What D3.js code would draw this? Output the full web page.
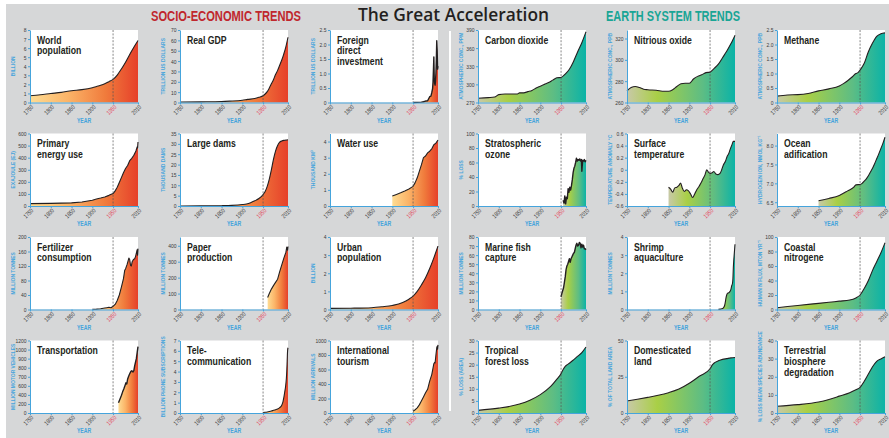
<!DOCTYPE html>
<html><head><meta charset="utf-8">
<script src="https://cdn.jsdelivr.net/npm/d3@7"></script>
<style>
html,body{margin:0;padding:0;background:#fff;}
svg{display:block;}
</style></head><body>
<svg id="chart" width="889" height="438"></svg>
<script>
// ---------- series: [year, value] ----------
const worldPopulation = [[1750,0.74],[1775,0.85],[1800,0.99],[1825,1.12],[1850,1.3],[1875,1.42],[1900,1.63],[1910,1.76],[1920,1.9],[1930,2.07],[1940,2.3],[1950,2.55],[1960,3.03],[1970,3.7],[1980,4.45],[1990,5.3],[2000,6.1],[2010,6.85]];
const realGDP = [[1750,0.4],[1800,0.6],[1850,0.9],[1870,1.3],[1900,2.2],[1913,3.0],[1930,3.8],[1940,5.0],[1950,6.5],[1955,8.2],[1960,10.5],[1965,14],[1970,18],[1975,22],[1980,27],[1985,31],[1990,36],[1995,41],[2000,47],[2005,54],[2010,63]];
const foreignInvestment = [[1950,0],[1960,0.005],[1970,0.013],[1975,0.027],[1980,0.05],[1985,0.06],[1990,0.2],[1993,0.22],[1995,0.34],[1997,0.48],[1998,0.7],[1999,1.1],[2000,1.57],[2001,0.82],[2002,0.65],[2003,0.6],[2004,0.74],[2005,1.0],[2006,1.45],[2007,2.13],[2008,1.8],[2009,1.15],[2010,1.25]];
const carbonDioxide = [[1750,277],[1775,278],[1790,279],[1800,283],[1815,284],[1830,284],[1845,284],[1850,286],[1860,286],[1870,288],[1880,290],[1890,294],[1900,297],[1910,300],[1920,303],[1930,307],[1940,311],[1950,311.5],[1960,317],[1970,325],[1980,338],[1990,354],[2000,369],[2010,387]];
const nitrousOxide = [[1750,271],[1760,274],[1770,275],[1780,274],[1790,272.5],[1800,272],[1820,271.5],[1840,270.5],[1850,270.5],[1860,272],[1870,275],[1880,277.5],[1890,278],[1900,278],[1910,282],[1920,284.5],[1930,286],[1940,288],[1950,288.5],[1960,292],[1970,296],[1980,302],[1990,308],[2000,315],[2010,323]];
const methane = [[1750,0.22],[1775,0.26],[1800,0.27],[1825,0.31],[1850,0.4],[1875,0.47],[1900,0.57],[1910,0.65],[1920,0.75],[1930,0.87],[1940,1.0],[1945,1.03],[1950,1.12],[1960,1.35],[1970,1.75],[1980,2.05],[1990,2.28],[2000,2.37],[2010,2.4]];

const primaryEnergy = [[1750,20],[1800,22],[1850,26],[1875,33],[1900,48],[1910,58],[1920,66],[1930,75],[1940,88],[1950,103],[1955,125],[1960,155],[1965,195],[1970,235],[1975,275],[1980,310],[1985,335],[1990,375],[1995,395],[2000,420],[2005,455],[2008,490],[2009,480],[2010,530]];
const largeDams = [[1750,0],[1800,0.05],[1850,0.15],[1875,0.3],[1900,0.7],[1910,1.0],[1920,1.6],[1930,2.5],[1940,3.6],[1950,5.5],[1955,7],[1960,9.5],[1965,13],[1970,17.5],[1975,22.5],[1980,26.5],[1985,29.2],[1990,30.8],[1995,31.4],[2000,31.7],[2005,31.8],[2010,32]];
const waterUse = [[1900,0.62],[1910,0.72],[1920,0.82],[1930,0.93],[1940,1.05],[1950,1.22],[1955,1.45],[1960,1.75],[1965,2.15],[1970,2.55],[1975,3.0],[1980,3.1],[1985,3.3],[1990,3.4],[1995,3.55],[2000,3.8],[2005,3.9],[2010,4.1]];
const ozoneLoss = [[1955,8],[1957,4],[1959,14],[1961,3],[1963,12],[1965,10],[1967,24],[1969,19],[1971,26],[1973,22],[1975,28],[1977,36],[1979,46],[1981,52],[1983,55],[1985,60],[1987,66],[1989,62],[1991,64],[1993,63],[1995,65],[1997,62],[1999,64],[2000,48],[2002,63],[2004,62],[2006,64],[2008,61],[2010,63]];
const surfaceTemperature = [[1850,-0.29],[1855,-0.32],[1860,-0.37],[1865,-0.3],[1870,-0.29],[1875,-0.26],[1879,-0.22],[1883,-0.3],[1888,-0.36],[1893,-0.33],[1898,-0.35],[1903,-0.4],[1908,-0.46],[1913,-0.4],[1918,-0.33],[1923,-0.28],[1928,-0.22],[1933,-0.15],[1938,-0.08],[1942,0.0],[1946,-0.04],[1950,-0.06],[1955,-0.05],[1959,-0.03],[1964,-0.07],[1969,-0.08],[1974,-0.06],[1978,0.0],[1982,0.08],[1987,0.14],[1991,0.22],[1995,0.27],[1999,0.35],[2003,0.42],[2006,0.47],[2010,0.47]];
const oceanAcidification = [[1850,6.54],[1875,6.6],[1900,6.68],[1920,6.8],[1935,6.9],[1940,6.96],[1950,6.97],[1955,7.0],[1960,7.06],[1965,7.12],[1970,7.2],[1975,7.3],[1980,7.4],[1985,7.52],[1990,7.65],[1995,7.78],[2000,7.92],[2005,8.06],[2010,8.22]];

const fertilizer = [[1900,0.5],[1910,1],[1920,2],[1930,4],[1935,5],[1940,6],[1945,5],[1950,9],[1955,14],[1960,25],[1965,40],[1970,62],[1975,85],[1978,108],[1980,112],[1984,125],[1988,142],[1990,138],[1992,122],[1994,120],[1996,132],[1999,138],[2002,140],[2004,146],[2007,160],[2008,165],[2009,150],[2010,168]];
const paper = [[1961,75],[1965,100],[1970,128],[1975,150],[1980,170],[1985,190],[1990,238],[1995,280],[2000,322],[2005,360],[2007,392],[2009,372],[2010,395]];
const urbanPopulation = [[1750,0.06],[1800,0.07],[1850,0.1],[1875,0.15],[1900,0.22],[1925,0.38],[1940,0.57],[1950,0.74],[1960,1.0],[1970,1.35],[1980,1.75],[1990,2.26],[2000,2.85],[2010,3.5]];
const marineFish = [[1950,14],[1952,18],[1954,21],[1956,24],[1958,30],[1960,36],[1962,44],[1964,48],[1966,50],[1968,53],[1970,56],[1972,52],[1974,56],[1976,58],[1978,60],[1980,62],[1982,63],[1984,67],[1986,71],[1988,73],[1990,70],[1992,71],[1994,74],[1996,73],[1998,68],[2000,72],[2002,69],[2004,71],[2006,67],[2008,67],[2010,66]];
const shrimp = [[1970,0.01],[1975,0.02],[1980,0.05],[1983,0.12],[1985,0.22],[1987,0.45],[1988,0.6],[1990,0.8],[1992,0.9],[1995,0.92],[1998,1.0],[2000,1.1],[2002,1.3],[2004,1.45],[2005,1.7],[2006,2.3],[2007,2.7],[2008,3.0],[2009,3.3],[2010,3.6]];
const coastalNitrogen = [[1750,2.5],[1800,5.5],[1850,8.5],[1875,10],[1900,11.5],[1925,13],[1940,16],[1950,20],[1960,29],[1970,40],[1980,54],[1990,66],[2000,78],[2010,92]];

const transportation = [[1963,170],[1966,220],[1970,290],[1973,350],[1976,400],[1979,460],[1981,500],[1983,480],[1985,560],[1987,600],[1990,650],[1993,690],[1995,700],[1998,680],[2000,700],[2002,780],[2004,840],[2006,900],[2008,1000],[2010,1100]];
const telecommunication = [[1950,0.05],[1955,0.07],[1960,0.1],[1965,0.14],[1970,0.19],[1975,0.26],[1980,0.32],[1985,0.39],[1990,0.52],[1995,0.75],[1998,1.1],[2000,1.5],[2002,2.0],[2004,2.5],[2006,3.3],[2007,4.0],[2008,5.0],[2009,6.0],[2010,6.3]];
const tourism = [[1950,25],[1955,45],[1960,70],[1965,112],[1970,166],[1975,222],[1980,278],[1985,327],[1990,440],[1995,530],[2000,680],[2002,700],[2003,690],[2005,800],[2007,900],[2008,920],[2009,880],[2010,940]];
const tropicalForest = [[1750,1.1],[1800,2.0],[1850,3.7],[1875,5.3],[1900,7.6],[1925,11],[1940,14],[1950,16.3],[1955,18],[1960,19.3],[1965,20],[1970,20.6],[1980,22],[1990,23.5],[2000,25],[2010,27.3]];
const domesticatedLand = [[1750,8.3],[1775,9.5],[1800,10.8],[1825,12.2],[1850,14],[1875,16.5],[1900,20.5],[1925,25.5],[1950,30.5],[1955,33],[1960,34.5],[1970,36],[1980,37],[1990,37.5],[2000,38],[2010,38.3]];
const biosphereDegradation = [[1750,3.7],[1800,4.6],[1850,6.1],[1875,7.5],[1900,9.3],[1925,11.2],[1940,12.8],[1950,14.2],[1960,17.5],[1970,21.5],[1980,25.5],[1990,28.5],[2000,29.8],[2010,31]];

// ---------- tick labels ----------
const yearTicks = ["1750","1800","1850","1900","1950","2010"];
const ticksPop = ["0","1","2","3","4","5","6","7","8"];
const ticksGDP = ["0","10","20","30","40","50","60","70"];
const ticksFDI = ["0","0.5","1.0","1.5","2.0","2.5"];
const ticksCO2 = ["270","300","330","360","390"];
const ticksN2O = ["260","280","300","320"];
const ticksCH4 = ["0","0.5","1.0","1.5","2.0","2.5"];
const ticksEnergy = ["0","100","200","300","400","500","600"];
const ticksDams = ["0","5","10","15","20","25","30","35"];
const ticksWater = ["0","1","2","3","4"];
const ticksOzone = ["0","20","40","60","80","100"];
const ticksTemp = ["-0.6","-0.4","-0.2","0","0.2","0.4","0.6"];
const ticksOcean = ["6.5","7.0","7.5","8.0"];
const ticksFert = ["0","40","80","120","160","200"];
const ticksPaper = ["0","100","200","300","400"];
const ticksUrban = ["0","1","2","3","4"];
const ticksFish = ["0","10","20","30","40","50","60","70","80"];
const ticksShrimp = ["0","1","2","3","4"];
const ticksCoastal = ["0","20","40","60","80","100"];
const ticksTransport = ["0","200","400","600","700","800","900","1000","1200"];
const ticksTelecom = ["0","1","2","3","4","5","6","7"];
const ticksTourism = ["0","200","400","600","800","1000"];
const ticksForest = ["0","5","10","15","20","25","30"];
const ticksLand = ["0","25","50"];
const ticksBiosphere = ["0","10","20","30","40"];

// ---------- panel definitions (row-major, 6 per row) ----------
const S = "socio", E = "earth";
const panels = [
  {title:["World","population"], unit:"BILLION", data:worldPopulation, domain:[0,8], ticks:ticksPop, theme:S, smooth:true},
  {title:["Real GDP"], unit:"TRILLION US DOLLARS", data:realGDP, domain:[0,70], ticks:ticksGDP, theme:S, smooth:true},
  {title:["Foreign","direct","investment"], unit:"TRILLION US DOLLARS", data:foreignInvestment, domain:[0,2.5], ticks:ticksFDI, theme:S, smooth:false, heavy:true},
  {title:["Carbon dioxide"], unit:"ATMOSPHERIC CONC., PPM", data:carbonDioxide, domain:[270,390], ticks:ticksCO2, theme:E, smooth:true},
  {title:["Nitrious oxide"], unit:"ATMOSPHERIC CONC., PPB", data:nitrousOxide, domain:[260,328], ticks:ticksN2O, theme:E, smooth:true},
  {title:["Methane"], unit:"ATMOSPHERIC CONC., PPB", data:methane, domain:[0,2.5], ticks:ticksCH4, theme:E, smooth:true},

  {title:["Primary","energy use"], unit:"EXAJOULE (EJ)", data:primaryEnergy, domain:[0,600], ticks:ticksEnergy, theme:S, smooth:false},
  {title:["Large dams"], unit:"THOUSAND DAMS", data:largeDams, domain:[0,35], ticks:ticksDams, theme:S, smooth:true},
  {title:["Water use"], unit:"THOUSAND KM³", data:waterUse, domain:[0,4.5], ticks:ticksWater, theme:S, smooth:false},
  {title:["Stratospheric","ozone"], unit:"% LOSS", data:ozoneLoss, domain:[0,100], ticks:ticksOzone, theme:E, smooth:false, heavy:true},
  {title:["Surface","temperature"], unit:"TEMPERATURE ANOMALY °C", data:surfaceTemperature, domain:[-0.6,0.6], ticks:ticksTemp, theme:E, smooth:true},
  {title:["Ocean","adification"], unit:"HYDROGEN ION, NMOL KG⁻¹", data:oceanAcidification, domain:[6.4,8.32], ticks:ticksOcean, theme:E, smooth:true},

  {title:["Fertilizer","consumption"], unit:"MILLION TONNES", data:fertilizer, domain:[0,200], ticks:ticksFert, theme:S, smooth:false},
  {title:["Paper","production"], unit:"MILLION TONNES", data:paper, domain:[0,455], ticks:ticksPaper, theme:S, smooth:false},
  {title:["Urban","population"], unit:"BILLION", data:urbanPopulation, domain:[0,4], ticks:ticksUrban, theme:S, smooth:true},
  {title:["Marine fish","capture"], unit:"MILLION TONNES", data:marineFish, domain:[0,80], ticks:ticksFish, theme:E, smooth:false, heavy:true},
  {title:["Shrimp","aquaculture"], unit:"MILLION TONNES", data:shrimp, domain:[0,4], ticks:ticksShrimp, theme:E, smooth:true},
  {title:["Coastal","nitrogene"], unit:"HUMAN N FLUX, MTON YR⁻¹", data:coastalNitrogen, domain:[0,100], ticks:ticksCoastal, theme:E, smooth:true},

  {title:["Transportation"], unit:"MILLION MOTOR VEHICLES", data:transportation, domain:[0,1200], ticks:ticksTransport, evenTicks:true, theme:S, smooth:false, heavy:true},
  {title:["Tele-","communication"], unit:"BILLION PHONE SUBSCRIPTIONS", data:telecommunication, domain:[0,7], ticks:ticksTelecom, theme:S, smooth:true},
  {title:["International","tourism"], unit:"MILLION ARRIVALS", data:tourism, domain:[0,1000], ticks:ticksTourism, theme:S, smooth:false},
  {title:["Tropical","forest loss"], unit:"% LOSS (AREA)", data:tropicalForest, domain:[0,30], ticks:ticksForest, theme:E, smooth:true},
  {title:["Domesticated","land"], unit:"% OF TOTAL LAND AREA", data:domesticatedLand, domain:[0,50], ticks:ticksLand, theme:E, smooth:true},
  {title:["Terrestrial","biosphere","degradation"], unit:"% LOSS MEAN SPECIES ABUNDANCE", data:biosphereDegradation, domain:[0,40], ticks:ticksBiosphere, theme:E, smooth:true}
];

// ---------- layout & style ----------
const W = 889, H = 438;
const colLeft = [30, 180, 330, 478, 627, 777];
const rowTop = [30, 133.5, 237, 340.5];
const plotW = 108, plotH = 72.5;
const axisBlue = "#45a4dc";
const ink = "#231f20";
const sans = "'Liberation Sans', Arial, sans-serif";
const squeeze = 0.8;     // horizontal condensing for small axis labels
const titleSqueeze = 0.82;
const titleSize = 10.6, titleLead = 10.8;
const gradStops = {
  socio: [[0,"#fedc93"],[0.35,"#fbb468"],[0.7,"#f07b3c"],[1,"#e6402a"]],
  earth: [[0,"#c8c9a8"],[0.28,"#a9cf46"],[0.7,"#5dbd84"],[1,"#0bb3a7"]]
};

const svg = d3.select("#chart");
const defs = svg.append("defs");

svg.append("rect").attr("x", 6).attr("y", 4).attr("width", W - 6).attr("height", H - 4).attr("fill", "#d6d7d8");
svg.append("line").attr("x1", 450).attr("x2", 450).attr("y1", 31).attr("y2", 411)
  .attr("stroke", "#fff").attr("stroke-width", 2);

// headings
svg.append("text").attr("x", 151).attr("y", 20.5)
  .attr("textLength", 150).attr("lengthAdjust", "spacingAndGlyphs")
  .style("font-family", sans).style("font-weight", 700).style("font-size", "14.5px")
  .attr("fill", "#c0272d").text("SOCIO-ECONOMIC TRENDS");
svg.append("text").attr("x", 358).attr("y", 20.5)
  .attr("textLength", 191).attr("lengthAdjust", "spacingAndGlyphs")
  .style("font-family", "'Open Sans', sans-serif").style("font-weight", 600).style("font-size", "18px")
  .attr("fill", ink).text("The Great Acceleration");
svg.append("text").attr("x", 606).attr("y", 20.5)
  .attr("textLength", 134).attr("lengthAdjust", "spacingAndGlyphs")
  .style("font-family", sans).style("font-weight", 700).style("font-size", "14.5px")
  .attr("fill", "#19a595").text("EARTH SYSTEM TRENDS");

const yearValues = yearTicks.map(Number);

panels.forEach((p, i) => {
  const left = colLeft[i % 6], top = rowTop[Math.floor(i / 6)];
  const bottom = top + plotH, right = left + plotW;
  const x = d3.scaleLinear().domain([1750, 2010]).range([left, right]);
  const y = d3.scaleLinear().domain(p.domain).range([bottom, top]);
  const g = svg.append("g");

  g.append("rect").attr("x", left).attr("y", top).attr("width", plotW).attr("height", plotH).attr("fill", "#fff");

  // gradient spanning the series' own year range
  const first = p.data[0][0], last = p.data[p.data.length - 1][0];
  const gid = "grad" + i;
  const lg = defs.append("linearGradient").attr("id", gid).attr("gradientUnits", "userSpaceOnUse")
    .attr("x1", x(first)).attr("x2", x(last)).attr("y1", 0).attr("y2", 0);
  gradStops[p.theme].forEach(s => lg.append("stop").attr("offset", s[0]).attr("stop-color", s[1]));

  const curve = p.smooth ? d3.curveMonotoneX : d3.curveLinear;
  const area = d3.area().curve(curve).x(d => x(d[0])).y0(bottom).y1(d => y(d[1]));
  const line = d3.line().curve(curve).x(d => x(d[0])).y(d => y(d[1]));

  g.append("path").datum(p.data).attr("d", area).attr("fill", `url(#${gid})`);
  g.append("path").datum(p.data).attr("d", line).attr("fill", "none")
    .attr("stroke", ink).attr("stroke-width", p.heavy ? 1.4 : 1.1).attr("stroke-linejoin", "round");

  // 1950 marker
  g.append("line").attr("x1", x(1950)).attr("x2", x(1950)).attr("y1", top).attr("y2", bottom)
    .attr("stroke", "#555").attr("stroke-width", 0.7).attr("stroke-dasharray", "2,1.4");

  // y axis
  const tickVals = p.evenTicks
    ? p.ticks.map((t, k) => p.domain[0] + k * (p.domain[1] - p.domain[0]) / (p.ticks.length - 1))
    : p.ticks.map(Number);
  const yAxis = d3.axisLeft(y).tickValues(tickVals).tickFormat((d, k) => p.ticks[k])
    .tickSize(2).tickSizeOuter(0);
  const ya = g.append("g").attr("transform", `translate(${left},0)`).call(yAxis);
  ya.select(".domain").attr("stroke", axisBlue).attr("stroke-width", 1);
  ya.selectAll(".tick line").attr("stroke", axisBlue);
  ya.selectAll(".tick text")
    .attr("x", -3.5 / squeeze).attr("transform", `scale(${squeeze},1)`)
    .attr("fill", "#3a3a3a").style("font-family", sans).style("font-size", "6.2px");

  // x axis
  const xAxis = d3.axisBottom(x).tickValues(yearValues).tickFormat((d, k) => yearTicks[k])
    .tickSize(2).tickSizeOuter(0);
  const xa = g.append("g").attr("transform", `translate(0,${bottom})`).call(xAxis);
  xa.select(".domain").attr("stroke", axisBlue).attr("stroke-width", 1);
  xa.selectAll(".tick line").attr("stroke", axisBlue);
  xa.selectAll(".tick text")
    .attr("y", 0).attr("dy", "0.32em")
    .attr("transform", `translate(-2,7.5) rotate(-45) scale(${squeeze},1)`)
    .attr("text-anchor", "middle")
    .attr("fill", d => d === 1950 ? "#e4455c" : "#3a3a3a")
    .style("font-family", sans).style("font-size", "6.2px");

  // axis titles
  svg.append("text").attr("transform", `translate(${left - 17},${top + plotH / 2}) rotate(-90) scale(${squeeze},1)`)
    .attr("text-anchor", "middle").attr("dy", "0.35em")
    .style("font-family", sans).style("font-weight", 700).style("font-size", "6.2px")
    .attr("fill", axisBlue).text(p.unit);
  svg.append("text").attr("transform", `translate(${left + plotW / 2},${bottom + 20}) scale(${squeeze},1)`)
    .attr("text-anchor", "middle")
    .style("font-family", sans).style("font-weight", 700).style("font-size", "6.4px")
    .attr("fill", axisBlue).text("YEAR");

  // panel title: one text, a tspan per line, each line condensed to a fraction of its natural width
  const t = svg.append("text").attr("x", left + 7).attr("y", top + 13.5)
    .style("font-family", sans).style("font-weight", 700).style("font-size", titleSize + "px")
    .attr("fill", ink);
  p.title.forEach((s, k) => {
    const ts = t.append("tspan").attr("x", left + 7).attr("dy", k === 0 ? 0 : titleLead).text(s);
    const natural = ts.node().getComputedTextLength();
    ts.attr("textLength", natural * titleSqueeze).attr("lengthAdjust", "spacingAndGlyphs");
  });
});
</script>
</body></html>
